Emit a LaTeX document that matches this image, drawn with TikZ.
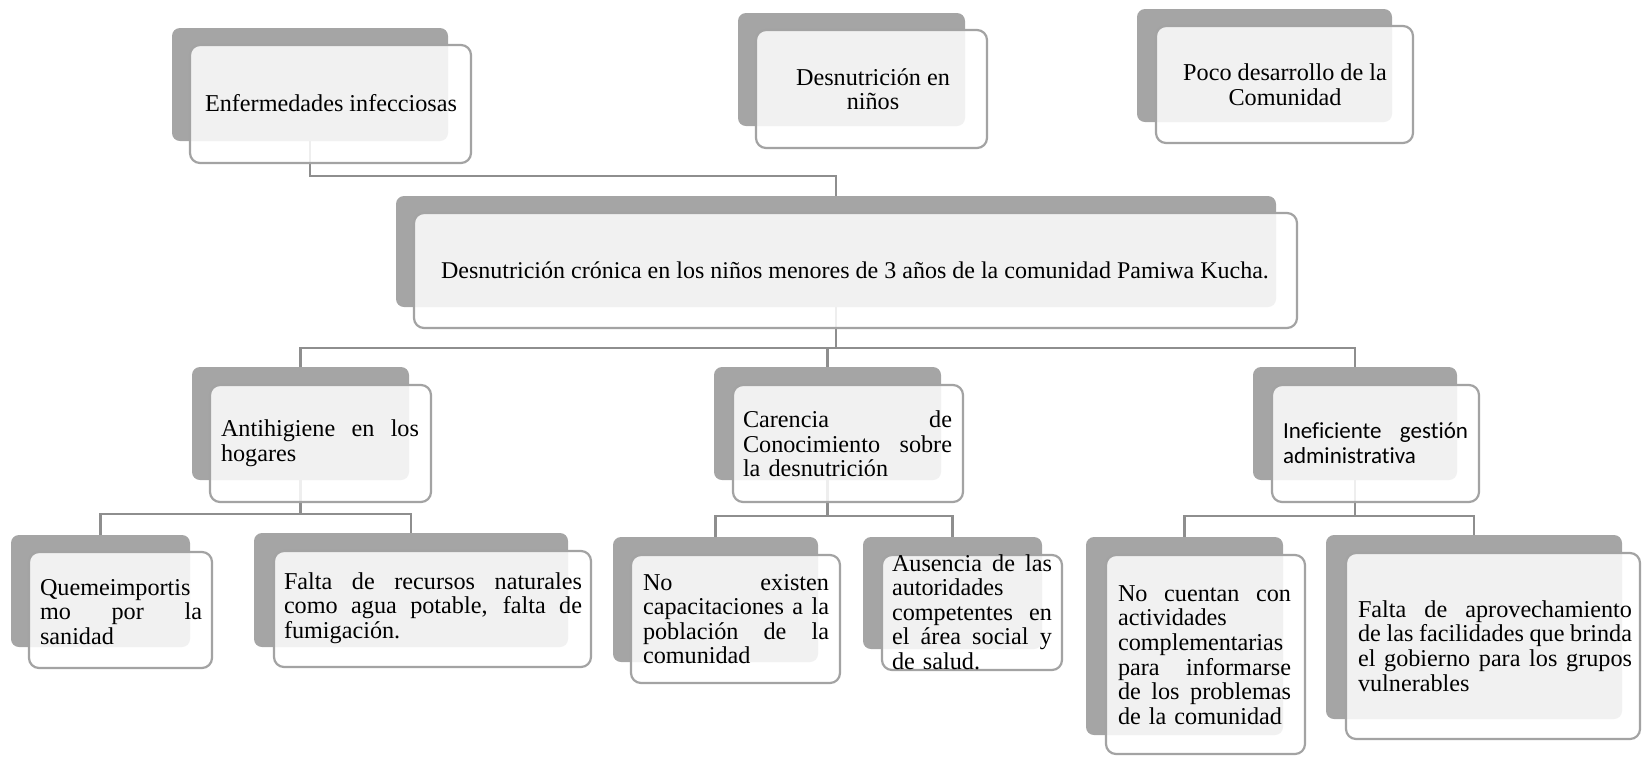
\documentclass[tikz,border=0pt]{standalone}
\usepackage{fontspec}
\setmainfont{Liberation Serif}
\newfontfamily\calibfont[Ligatures=NoCommon]{Carlito}
\usetikzlibrary{fit,backgrounds}
\setlength\parindent{0pt}
\definecolor{boxgray}{HTML}{A5A5A5}
\definecolor{edgegray}{HTML}{A3A3A3}
\definecolor{linegray}{HTML}{8E8E8E}
\tikzset{
  backbox/.style={fill=boxgray, draw=none, rounded corners=4pt, inner sep=0pt, outer sep=0pt},
  frontbox/.style={fill=white, fill opacity=0.85, draw=edgegray, line width=1.1pt, rounded corners=5pt, inner sep=0pt, outer sep=0pt},
  conn/.style={draw=linegray, line width=1.2pt},
  lbl/.style={inner sep=0pt, font=\fontsize{12.1}{12.3}\selectfont, text=black, align=center},
  jlbl/.style={lbl, align=left},
}
\newcommand\J[2]{{\spaceskip=0pt\xspaceskip=0pt\makebox[#1][s]{#2}}}
\begin{document}
\begin{tikzpicture}[x=0.5pt,y=-0.5pt]
\useasboundingbox (0,0) rectangle (1642,757);

% top row
\node[backbox, fit={(172,28) (448,141)}] (enfG) {};
\node[frontbox, fit={(190,45) (471,163)}] (enfW) {};
\node[lbl] (enfT) at (331,103) {Enfermedades infecciosas};

\node[backbox, fit={(738,13) (965,126)}] (desG) {};
\node[frontbox, fit={(756,30) (987,148)}] (desW) {};
\node[lbl] (desT) at (873,89) {Desnutrición en\\niños};

\node[backbox, fit={(1137,9) (1392,122)}] (pocG) {};
\node[frontbox, fit={(1156,26) (1413,143)}] (pocW) {};
\node[lbl] (pocT) at (1285,85) {Poco desarrollo de la\\Comunidad};

% central problem
\node[backbox, fit={(396,196) (1276,307)}] (cenG) {};
\node[frontbox, fit={(414,213) (1297,328)}] (cenW) {};
\node[lbl, font=\fontsize{12}{12.3}\selectfont] (cenT) at (855,270) {Desnutrición crónica en los niños menores de 3 años de la comunidad Pamiwa Kucha.};

% middle row
\node[backbox, fit={(192,367) (409,480)}] (antG) {};
\node[frontbox, fit={(210,385) (431,502)}] (antW) {};
\node[jlbl, text width=99pt] (antT) at (320,443) {\J{99pt}{Antihigiene en los}\\hogares};

\node[backbox, fit={(714,367) (941,480)}] (carG) {};
\node[frontbox, fit={(733,385) (963,502)}] (carW) {};
\node[jlbl, text width=104.5pt] (carT) at (847.5,444) {\J{104.5pt}{Carencia de}\\\J{104.5pt}{Conocimiento sobre}\\la desnutrición};

\node[backbox, fit={(1253,367) (1457,480)}] (infG) {};
\node[frontbox, fit={(1272,385) (1479,502)}] (infW) {};
\node[jlbl, text width=92.5pt, font=\calibfont\fontsize{11.5}{12.5}\selectfont] (infT) at (1375.5,443) {\J{92.5pt}{Ineficiente gestión}\\administrativa};

% bottom row
\node[backbox, fit={(11,535) (190,647)}] (queG) {};
\node[frontbox, fit={(29,552) (212,668)}] (queW) {};
\node[jlbl, text width=81pt] (queT) at (121,612) {Quemeimportis\\\J{81pt}{mo por la}\\sanidad};

\node[backbox, fit={(254,533) (568,647)}] (fa1G) {};
\node[frontbox, fit={(274,551) (591,667)}] (fa1W) {};
\node[jlbl, text width=149pt] (fa1T) at (433,608) {\J{149pt}{Falta de recursos naturales}\\\J{149pt}{como agua potable, falta de}\\fumigación.};

\node[backbox, fit={(613,537) (818,662)}] (noeG) {};
\node[frontbox, fit={(631,555) (840,683)}] (noeW) {};
\node[jlbl, text width=93pt] (noeT) at (736,619) {\J{93pt}{No existen}\\\J{93pt}{capacitaciones a la}\\\J{93pt}{población de la}\\comunidad};

\node[backbox, fit={(863,537) (1042,649)}] (ausG) {};
\node[frontbox, fit={(882,555) (1062,670)}] (ausW) {};
\node[jlbl, text width=80pt] (ausT) at (972,612) {\J{80pt}{Ausencia de las}\\autoridades\\\J{80pt}{competentes en}\\\J{80pt}{el área social y}\\de salud.};

\node[backbox, fit={(1086,537) (1283,735)}] (nocG) {};
\node[frontbox, fit={(1106,555) (1305,754)}] (nocW) {};
\node[jlbl, text width=86.5pt] (nocT) at (1204.5,655) {\J{86.5pt}{No cuentan con}\\actividades\\complementarias\\\J{86.5pt}{para informarse}\\\J{86.5pt}{de los problemas}\\de la comunidad};

\node[backbox, fit={(1326,535) (1622,719)}] (fa2G) {};
\node[frontbox, fit={(1346,553) (1640,739)}] (fa2W) {};
\node[jlbl, text width=137pt] (fa2T) at (1495,646) {\J{137pt}{Falta de aprovechamiento}\\\J{137pt}{de las facilidades que brinda}\\\J{137pt}{el gobierno para los grupos}\\vulnerables};

% connectors
\coordinate (topbus) at (0,176);
\coordinate (midbus) at (0,348);
\coordinate (antbus) at (0,514);
\coordinate (carbus) at (0,516);
\coordinate (infbus) at (0,516);
\begin{scope}[on background layer]
  \draw[conn] (enfG.south) -- (enfG.south |- topbus) -| (cenG.north);
  \draw[conn] (cenG.south) -- (cenG.south |- midbus);
  \draw[conn] (antG.north) -- (antG.north |- midbus) -- (infG.north |- midbus) -- (infG.north);
  \draw[conn] (carG.north) -- (carG.north |- midbus);
  \draw[conn] (antG.south) -- (antG.south |- antbus);
  \draw[conn] (queG.north) -- (queG.north |- antbus) -- (fa1G.north |- antbus) -- (fa1G.north);
  \draw[conn] (carG.south) -- (carG.south |- carbus);
  \draw[conn] (noeG.north) -- (noeG.north |- carbus) -- (ausG.north |- carbus) -- (ausG.north);
  \draw[conn] (infG.south) -- (infG.south |- infbus);
  \draw[conn] (nocG.north) -- (nocG.north |- infbus) -- (fa2G.north |- infbus) -- (fa2G.north);
\end{scope}
\end{tikzpicture}
\end{document}
